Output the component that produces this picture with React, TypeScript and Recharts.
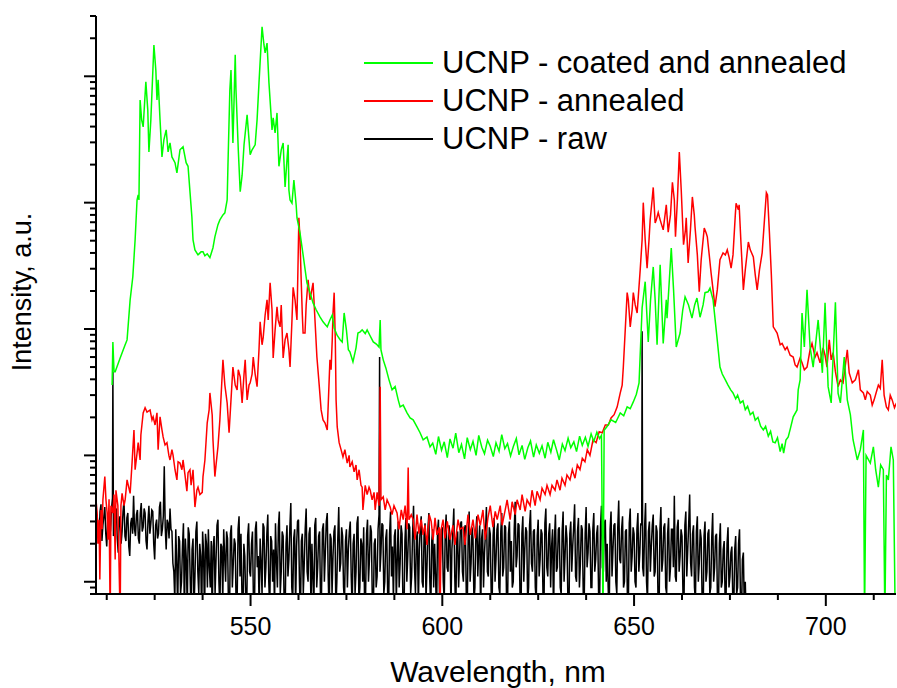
import React from 'react';
import { LineChart, Line, XAxis, YAxis, Legend } from 'recharts';

// [wavelength nm, intensity a.u.]
const coatedAnnealed: [number, number][] = [
  [513.9, 36], [514.1, 79], [514.4, 46], [514.7, 46], [516.0, 59], [517.3, 75], [517.8, 82], [518.6, 170],
  [519.3, 259], [519.9, 508], [520.4, 1050], [520.7, 1150], [520.9, 1050], [521.2, 6500], [521.6, 4520],
  [522.0, 3980], [522.7, 9030], [523.2, 5420], [523.5, 2520], [524.0, 4520], [524.8, 17700], [525.3, 11200],
  [525.6, 6500], [525.9, 9370], [526.4, 4520], [526.9, 2300], [527.4, 3140], [528.0, 3770], [528.5, 2520],
  [529.0, 2970], [529.5, 2300], [530.3, 2070], [530.8, 1720], [531.6, 2620], [532.4, 2770], [533.2, 2070],
  [533.7, 1940], [534.7, 772], [535.0, 508], [535.5, 423], [536.3, 386], [537.1, 408], [537.6, 408],
  [538.1, 380], [538.7, 394], [539.4, 367], [540.2, 440], [540.7, 536], [541.5, 670], [542.0, 731],
  [542.8, 800], [543.3, 830], [543.9, 1050], [544.1, 1940], [544.6, 7800], [544.9, 11200], [545.1, 6500],
  [545.4, 2970], [545.7, 6500], [546.0, 14800], [546.2, 7800], [546.8, 2620], [547.3, 1220], [547.8, 1650],
  [548.3, 2870], [549.1, 4950], [549.4, 3770], [549.9, 2400], [550.4, 2620], [551.2, 2870], [551.7, 4520],
  [552.2, 8870], [553.0, 24600], [553.5, 17700], [553.8, 15300], [554.3, 18300], [554.8, 8870], [555.6, 3770],
  [555.9, 4700], [556.4, 3570], [556.9, 5130], [557.4, 1940], [558.0, 2620], [558.5, 2970], [559.0, 1330],
  [559.5, 2180], [559.8, 2870], [560.0, 1260], [560.3, 1050], [560.8, 990], [561.3, 1510], [561.9, 950],
  [562.1, 760], [562.9, 575], [563.7, 386], [564.7, 232], [565.5, 194], [566.3, 161], [567.1, 142],
  [568.1, 125], [568.9, 114], [570.0, 104], [570.7, 118], [571.3, 129], [571.8, 102], [572.6, 89],
  [573.4, 82], [573.9, 79], [574.4, 134], [575.0, 98], [575.5, 68.5], [575.9, 66], [576.7, 55], [577.5, 71],
  [578.0, 93], [578.6, 95], [579.1, 98.5], [579.9, 92], [580.4, 98.5], [581.2, 88], [582.0, 79], [582.8, 76],
  [583.5, 72], [583.8, 118], [584.0, 68.5], [584.6, 57], [585.3, 49], [586.1, 39.6], [586.9, 33], [587.7, 35],
  [588.5, 27.5], [589.0, 24.2], [589.8, 25], [590.8, 21.7], [591.6, 19.8], [592.4, 19.1], [593.4, 16.8],
  [594.2, 15.1], [595.0, 13.3], [596.0, 14.0], [596.8, 11.7],
  [597.5, 12.5], [598.3, 10.2], [599.0, 14.1], [599.8, 11.0], [600.5, 12.8], [601.3, 9.6], [602.0, 13.5],
  [602.8, 11.4], [603.5, 15.0], [604.3, 10.5], [605.0, 12.2], [605.8, 9.4], [606.5, 13.8], [607.3, 11.1],
  [608.0, 12.9], [608.8, 10.0], [609.5, 14.4], [610.3, 11.6], [611.0, 10.3], [611.8, 13.2], [612.5, 11.8],
  [613.3, 9.8], [614.0, 12.6], [614.8, 10.8], [615.5, 14.6], [616.3, 11.3], [617.0, 12.4], [617.8, 9.9],
  [618.5, 11.7], [619.3, 13.6], [620.0, 10.1], [620.8, 12.0], [621.5, 9.3], [622.3, 11.5], [623.0, 13.0],
  [623.8, 9.7], [624.5, 12.1], [625.3, 10.4], [626.0, 11.9], [626.8, 9.5], [627.5, 12.7], [628.3, 10.6],
  [629.0, 13.3], [629.8, 11.0], [630.5, 9.2], [631.3, 12.3], [632.0, 10.9], [632.8, 13.7], [633.5, 11.5],
  [634.3, 12.8], [635.0, 10.7], [635.8, 14.2], [636.5, 12.0], [637.3, 13.9], [638.0, 11.8], [638.8, 14.8],
  [639.5, 12.9], [640.3, 15.3], [641.0, 13.6], [641.5, 14.4], [641.9, 0.5], [642.2, 15.8], [643.0, 17.0],
  [644.0, 19.1], [645.2, 18.2], [646.4, 21.7], [647.3, 20.6], [648.2, 24.2], [649.0, 23.4], [649.8, 26.5],
  [650.6, 30.5], [651.3, 37.5], [652.1, 147], [652.9, 237], [653.7, 79], [654.3, 170], [655.0, 310],
  [655.5, 170], [656.0, 75], [656.8, 322], [657.6, 77], [658.4, 170], [658.6, 122], [659.7, 437], [660.3, 204],
  [661.0, 72], [662.0, 93], [662.7, 142], [663.3, 180], [664.2, 155], [665.1, 122], [665.8, 155], [666.4, 176],
  [667.2, 124], [668.0, 155], [668.5, 194], [669.3, 197], [669.8, 211], [670.6, 170], [671.6, 87], [672.4, 50],
  [673.0, 44], [673.8, 39.6], [674.5, 36], [675.2, 33], [675.8, 31.2], [676.5, 28], [677.0, 30], [677.7, 26],
  [678.4, 27], [679.0, 23], [679.6, 24.5], [680.3, 21], [681.0, 22], [681.6, 19], [682.3, 20], [683.0, 17],
  [683.7, 15.9], [684.3, 17], [685.0, 14.2], [685.6, 15.5], [686.2, 12.8], [686.8, 12.6], [687.4, 13.8],
  [688.1, 10.7], [688.6, 12.4], [689.0, 10.4], [689.6, 13.2], [690.2, 14.0], [690.8, 16.5],
  [691.5, 20.2], [692.5, 22.9], [692.8, 33],
  [693.3, 39.6], [693.8, 134], [694.4, 72], [695.1, 204], [695.9, 72], [696.7, 50], [698.0, 118], [699.1, 45],
  [699.8, 161], [700.6, 35], [701.4, 26], [702.5, 163], [703.2, 31], [703.8, 26], [704.8, 60], [705.6, 27.5],
  [706.4, 21], [707.1, 13.3], [708.2, 9.2], [709.0, 11.1], [709.8, 15.9], [710.1, 0.5], [710.5, 10],
  [711.6, 8.7], [712.4, 11.7], [713.0, 7.7], [713.7, 5.6], [714.3, 8.4], [715.0, 7.7], [715.4, 0.5],
  [715.8, 7.0], [716.3, 6.4], [717.0, 11.7], [717.6, 9.2], [718.1, 0.5],
];

const annealed: [number, number][] = [
  [509.7, 4.45], [510.0, 3.5], [510.2, 2.0], [510.5, 3.1], [510.7, 1.04], [511.0, 3.7], [511.3, 2.6],
  [511.5, 4.45], [512.0, 6.8], [512.3, 4.45], [512.6, 3.5], [512.8, 2.15], [513.1, 4.5], [513.4, 0.5],
  [513.6, 4.0], [514.1, 3.5], [514.4, 4.9], [514.7, 1.5], [514.9, 5.3], [515.4, 4.0], [516.0, 0.5],
  [516.2, 4.0], [516.5, 5.0], [517.0, 4.0], [517.3, 4.45], [517.8, 6.4], [518.6, 5.0], [519.1, 8.7],
  [519.6, 15.9], [519.9, 7.7], [520.4, 10.4], [520.7, 12.6], [521.2, 9.2], [521.4, 14.5], [522.0, 21.7],
  [522.5, 23.8], [523.0, 22], [523.8, 22.9], [524.3, 19.1], [524.6, 20.2], [525.1, 17.4], [525.6, 21.7],
  [525.9, 11.1], [526.4, 20.2], [526.9, 15.9], [527.2, 14.0], [527.7, 12.1], [528.2, 12.6], [528.7, 10],
  [529.0, 9.2], [529.5, 11.1], [529.8, 10], [530.3, 7.7], [530.8, 6.4], [531.1, 8.9], [531.6, 8.7],
  [532.1, 7.7], [532.4, 9.2], [532.9, 7.0], [533.4, 5.2], [533.7, 7.3], [534.2, 7.7], [534.5, 5.8],
  [535.0, 7.7], [535.5, 3.9], [536.0, 5.3], [536.3, 5.6], [536.8, 4.9], [537.4, 5.1], [537.6, 6.8],
  [538.1, 9.2], [538.7, 18.1], [539.2, 22.9], [539.4, 31.2], [540.0, 20.9], [540.2, 13.3], [540.7, 6.8],
  [541.0, 8.4], [541.5, 11.7], [542.0, 19.1], [542.8, 57], [543.3, 36], [543.9, 26], [544.4, 15.1],
  [544.9, 27.5], [545.4, 50], [546.0, 36], [546.5, 33], [546.8, 47.6], [547.3, 41.9], [547.8, 26],
  [548.3, 44], [548.6, 57], [549.1, 27.5], [549.6, 36], [549.9, 37.5], [550.4, 44], [550.7, 60], [551.2, 44],
  [551.7, 35], [552.2, 68.5], [552.5, 114], [553.0, 75], [553.3, 86], [553.8, 129], [554.3, 170], [554.6, 118],
  [555.1, 232], [555.6, 142], [555.9, 59], [556.4, 98.5], [556.9, 150], [557.2, 118], [557.7, 104],
  [558.0, 155], [558.5, 59], [559.0, 82], [559.5, 93], [560.0, 68.5], [560.3, 50], [560.8, 118], [561.1, 214],
  [561.6, 170], [562.1, 118], [562.4, 353], [562.6, 760], [562.9, 508], [563.2, 245], [563.5, 129],
  [563.7, 93], [564.2, 93], [564.5, 155], [565.0, 245], [565.5, 170], [566.3, 232], [566.8, 118], [567.3, 60],
  [567.9, 36], [568.4, 22.9], [568.9, 19.1], [569.4, 18.1], [570.0, 15.9], [570.5, 39.6], [570.7, 57],
  [571.0, 47.6], [571.3, 82], [571.5, 134], [571.8, 194], [572.1, 82], [572.3, 27.5], [572.6, 16.8],
  [573.1, 12.6], [573.6, 11.1], [574.1, 9.7], [574.6, 11.1], [575.2, 8.7], [575.7, 10], [575.9, 8.1],
  [576.5, 8.9], [577.0, 7.4], [577.5, 8.4], [577.8, 6.4], [578.3, 7.7], [578.8, 5.8], [579.1, 5.6],
  [579.3, 3.7], [579.9, 5.8], [580.4, 4.9], [580.9, 5.6], [581.2, 5.3], [581.7, 4.45], [582.2, 5.1],
  [582.5, 3.7], [583.0, 5.1], [583.5, 4.0], [583.8, 35], [584.0, 4.45], [584.6, 4.7], [585.1, 3.7],
  [585.6, 4.45], [586.4, 3.9], [586.9, 3.4], [587.4, 4.0], [588.2, 3.5], [588.7, 2.6], [589.3, 3.7],
  [589.8, 3.1], [590.3, 4.0], [590.8, 2.6], [591.1, 8.0], [591.3, 3.1], [591.9, 3.4], [592.4, 3.1],
  [592.9, 2.15], [593.4, 3.4], [593.9, 2.4], [594.5, 3.1], [595.0, 2.35], [595.5, 2.8], [596.0, 1.96],
  [596.6, 3.4], [597.1, 3.0], [597.6, 2.15], [598.1, 3.2], [598.6, 2.35], [599.2, 2.7], [599.4, 0.5],
  [599.7, 2.6], [600.2, 3.1], [600.7, 2.2], [601.3, 3.0], [602.0, 2.15], [602.8, 2.8], [603.3, 1.96],
  [604.1, 3.1], [604.6, 2.6], [605.4, 2.7], [605.9, 1.96], [606.7, 3.4], [607.3, 2.35], [608.0, 3.1],
  [608.6, 2.2], [609.3, 3.4], [609.9, 2.8], [610.6, 3.7], [611.2, 2.15], [611.9, 3.2], [612.5, 4.0],
  [613.2, 2.7], [613.8, 3.6], [614.3, 3.1], [615.1, 4.0], [615.6, 2.8], [616.4, 3.7], [616.9, 4.45],
  [617.7, 3.1], [618.2, 4.3], [619.0, 3.4], [619.5, 4.45], [620.3, 3.7], [620.8, 4.9], [621.6, 3.6],
  [622.1, 4.45], [622.9, 4.0], [623.4, 5.3], [624.2, 4.0], [624.7, 5.2], [625.5, 4.45], [626.0, 5.5],
  [626.8, 4.9], [627.3, 5.8], [628.1, 4.9], [628.6, 5.8], [629.4, 5.3], [629.9, 6.4], [630.7, 5.3],
  [631.2, 6.6], [632.0, 5.8], [632.5, 7.0], [633.3, 6.4], [633.9, 7.7], [634.6, 6.6], [635.2, 8.4],
  [635.9, 7.7], [636.5, 9.5], [637.2, 8.9], [637.8, 11.1], [638.5, 10], [639.3, 13.3], [640.1, 12.6],
  [640.9, 15.4], [641.7, 15.1], [642.5, 17.4], [643.3, 17.4], [644.0, 19.8], [644.8, 21], [645.6, 24.2],
  [646.4, 31.2], [646.9, 36], [647.2, 50], [647.7, 98.5], [648.2, 194], [648.5, 170], [649.0, 104],
  [649.5, 142], [649.8, 194], [650.3, 155], [650.8, 134], [651.6, 294], [652.1, 508], [652.4, 1000],
  [652.9, 508], [653.4, 303], [653.9, 508], [654.2, 731], [654.7, 1050], [655.0, 1320], [655.5, 690],
  [655.8, 731], [656.3, 836], [656.8, 731], [657.6, 609], [658.4, 960], [658.9, 585], [659.5, 800],
  [660.0, 1450], [660.5, 1050], [660.8, 537], [661.3, 1050], [661.8, 2520], [662.3, 1260], [662.9, 465],
  [663.4, 609], [663.6, 760], [664.1, 333], [664.7, 609], [665.2, 1110], [665.7, 800], [665.9, 640],
  [666.5, 386], [667.0, 197], [667.5, 353], [668.3, 629], [668.8, 575], [669.1, 537], [669.6, 386],
  [670.1, 275], [670.6, 204], [671.1, 150], [671.7, 204], [672.4, 353], [673.2, 400], [673.8, 386],
  [674.3, 423], [674.8, 367], [675.3, 303], [675.8, 386], [676.4, 800], [676.6, 990], [677.2, 877],
  [677.4, 960], [677.9, 465], [678.5, 204], [679.0, 294], [679.8, 488], [680.3, 423], [681.1, 372],
  [681.6, 268], [682.1, 204], [682.7, 294], [683.4, 400], [684.0, 731], [684.5, 1200], [684.8, 1150],
  [685.3, 575], [685.8, 268], [686.3, 104], [686.8, 98.5], [687.3, 93], [688.1, 75], [688.6, 77],
  [689.4, 68.5], [689.9, 72], [690.7, 62], [691.5, 60], [692.0, 52], [692.5, 50], [693.3, 59], [693.8, 54],
  [694.4, 47.6], [695.1, 50], [695.9, 68.5], [696.4, 77], [697.2, 60], [697.7, 65], [698.5, 54], [699.3, 71],
  [699.8, 62], [700.3, 50], [700.9, 82], [701.4, 57], [701.9, 65], [702.5, 46], [703.2, 35], [703.8, 39.6],
  [704.5, 37.5], [705.1, 52], [705.6, 68.5], [706.1, 45], [706.9, 37.5], [707.7, 39.6], [708.5, 47.6],
  [709.0, 33], [709.8, 31.2], [710.3, 27.5], [710.8, 32], [711.6, 30], [712.1, 25], [712.6, 27.5],
  [713.1, 31.2], [713.7, 36], [714.2, 34], [714.7, 57], [715.2, 30], [715.8, 24.2], [716.3, 22.9],
  [716.8, 30], [717.3, 27.5], [717.9, 23.8], [718.4, 26],
];

const raw: [number, number][] = [
  [509.7, 3.0],
  [510, 3.4], [510.25, 2.5], [510.5, 2.2], [510.75, 3.6], [511, 4.1], [511.25, 2.1], [511.5, 2.8], [511.75, 3.3],
  [512, 3.9], [512.25, 2.4], [512.5, 1.9], [512.75, 3.0], [513, 3.6], [513.25, 2.2], [513.5, 2.6], [513.75, 3.8],
  [514, 4.6], [514.1, 46], [514.25, 2.3], [514.5, 2.4], [514.75, 3.5],
  [515, 3.8], [515.25, 2.2], [515.5, 1.7], [515.75, 3.1], [516, 3.3], [516.25, 2.0], [516.5, 2.5], [516.75, 3.6],
  [517, 4.4], [517.25, 2.3], [517.5, 2.1], [517.75, 3.2], [518, 3.5], [518.25, 1.9], [518.5, 1.6], [518.75, 2.9],
  [519, 3.2], [519.25, 2.4], [519.5, 4.8], [519.75, 2.6],
  [520, 2.3], [520.25, 3.4], [520.5, 3.7], [520.75, 2.2], [521, 2.0], [521.25, 3.5], [521.5, 4.2], [521.75, 2.5],
  [522, 2.7], [522.25, 3.8], [522.5, 3.5], [522.75, 2.1], [523, 1.8], [523.25, 3.0], [523.5, 4.0], [523.75, 2.4],
  [524, 2.9], [524.25, 3.7], [524.5, 3.6], [524.75, 2.0],
  [525, 1.5], [525.25, 2.8], [525.5, 3.1], [525.75, 2.2], [526, 2.4], [526.25, 3.9], [526.5, 4.3], [526.75, 2.3],
  [527, 2.6], [527.25, 3.3], [527.5, 8.2], [527.75, 2.7], [528, 1.8], [528.25, 3.1], [528.5, 2.9], [528.75, 2.2],
  [529, 3.8], [529.25, 2.6], [529.5, 2.5], [529.75, 1.4],
  [530, 1.2], [530.25, 0.7], [530.5, 2.6], [530.75, 1.4], [531, 0.6], [531.25, 2.3], [531.5, 2.1], [531.75, 0.8],
  [532, 1.0], [532.25, 1.9], [532.5, 2.9], [532.75, 0.5], [533, 2.2], [533.25, 1.5], [533.5, 0.6], [533.75, 2.7],
  [534, 2.4], [534.25, 1.1], [534.5, 0.5], [534.75, 1.8],
  [535, 2.2], [535.25, 0.6], [535.5, 1.1], [535.75, 2.5], [536, 3.0], [536.25, 1.2], [536.5, 0.8], [536.75, 2.0],
  [537, 1.6], [537.25, 0.5], [537.5, 2.5], [537.75, 1.7], [538, 0.5], [538.25, 2.4], [538.5, 2.0], [538.75, 0.9],
  [539, 2.6], [539.25, 1.3], [539.5, 0.9], [539.75, 2.1],
  [540, 0.5], [540.25, 1.9], [540.5, 2.3], [540.75, 0.8], [541, 1.5], [541.25, 2.8], [541.5, 3.1], [541.75, 1.0],
  [542, 0.6], [542.25, 2.0], [542.5, 1.9], [542.75, 0.7], [543, 2.6], [543.25, 1.6], [543.5, 1.0], [543.75, 2.5],
  [544, 2.2], [544.25, 0.6], [544.5, 0.5], [544.75, 2.4],
  [545, 2.8], [545.25, 0.9], [545.5, 1.4], [545.75, 2.2], [546, 2.0], [546.25, 0.6], [546.5, 0.7], [546.75, 2.6],
  [547, 3.3], [547.25, 1.1], [547.5, 2.4], [547.75, 0.8], [548, 0.5], [548.25, 2.0], [548.5, 1.6], [548.75, 0.7],
  [549, 0.6], [549.25, 2.3], [549.5, 2.9], [549.75, 1.2],
  [550, 1.1], [550.25, 2.0], [550.5, 2.5], [550.75, 0.7], [551, 0.5], [551.25, 2.6], [551.5, 3.0], [551.75, 1.3],
  [552, 1.6], [552.25, 0.6], [552.5, 2.2], [552.75, 1.4], [553, 0.8], [553.25, 2.9], [553.5, 2.7], [553.75, 0.9],
  [554, 1.3], [554.25, 2.4], [554.5, 3.4], [554.75, 1.0],
  [555, 0.6], [555.25, 2.3], [555.5, 2.1], [555.75, 1.0], [556, 1.8], [556.25, 0.6], [556.5, 2.9], [556.75, 1.5],
  [557, 0.9], [557.25, 2.7], [557.5, 3.6], [557.75, 0.8], [558, 1.2], [558.25, 2.5], [558.5, 2.3], [558.75, 0.7],
  [559, 0.5], [559.25, 2.0], [559.5, 2.8], [559.75, 1.1],
  [560, 1.5], [560.25, 2.7], [560.5, 4.2], [560.75, 0.9], [561, 0.7], [561.25, 2.2], [561.5, 2.6], [561.75, 0.6],
  [562, 1.9], [562.25, 3.0], [562.5, 3.1], [562.75, 1.0], [563, 0.5], [563.25, 2.1], [563.5, 2.4], [563.75, 0.8],
  [564, 1.4], [564.25, 2.6], [564.5, 3.8], [564.75, 1.2],
  [565, 1.0], [565.25, 2.4], [565.5, 2.7], [565.75, 0.6], [566, 2.0], [566.25, 1.1], [566.5, 0.6], [566.75, 2.8],
  [567, 3.2], [567.25, 0.9], [567.5, 1.3], [567.75, 2.3], [568, 2.5], [568.25, 0.7], [568.5, 0.8], [568.75, 2.6],
  [569, 2.9], [569.25, 1.0], [569.5, 1.7], [569.75, 3.0],
  [570, 3.5], [570.25, 1.1], [570.5, 0.5], [570.75, 2.4], [571, 2.2], [571.25, 0.8], [571.5, 1.6], [571.75, 2.5],
  [572, 2.8], [572.25, 0.6], [572.5, 1.0], [572.75, 2.2], [573, 3.9], [573.25, 1.2], [573.5, 1.4], [573.75, 2.7],
  [574, 2.3], [574.25, 0.9], [574.5, 0.7], [574.75, 2.1],
  [575, 2.6], [575.25, 0.9], [575.5, 1.8], [575.75, 2.5], [576, 3.0], [576.25, 1.1], [576.5, 0.6], [576.75, 2.0],
  [577, 2.4], [577.25, 0.8], [577.5, 1.2], [577.75, 2.9], [578, 3.3], [578.25, 0.7], [578.5, 0.9], [578.75, 2.2],
  [579, 2.0], [579.25, 1.0], [579.5, 2.7], [579.75, 0.6],
  [580, 0.8], [580.25, 2.4], [580.5, 3.1], [580.75, 1.0], [581, 1.5], [581.25, 2.8], [581.5, 2.5], [581.75, 0.7],
  [582, 0.5], [582.25, 2.0], [582.5, 2.2], [582.75, 0.9], [583, 1.1], [583.25, 2.6], [583.5, 3.4], [583.65, 60],
  [583.75, 1.2], [584, 1.7], [584.25, 2.9], [584.5, 2.8], [584.75, 0.8],
  [585, 1.0], [585.25, 2.2], [585.5, 2.6], [585.75, 0.8], [586, 0.6], [586.25, 2.4], [586.5, 3.6], [586.75, 1.1],
  [587, 1.9], [587.25, 0.7], [587.5, 2.3], [587.75, 2.6], [588, 0.7], [588.25, 1.5], [588.5, 3.0], [588.75, 0.9],
  [589, 1.4], [589.25, 2.8], [589.5, 2.4], [589.75, 0.6],
  [590, 0.5], [590.25, 2.1], [590.5, 3.2], [590.75, 1.0], [591, 1.6], [591.25, 2.9], [591.5, 2.7], [591.75, 0.8],
  [592, 1.1], [592.25, 2.4], [592.5, 4.0], [592.75, 1.3], [593, 0.8], [593.25, 2.2], [593.5, 2.5], [593.75, 0.6],
  [594, 1.8], [594.25, 2.7], [594.5, 3.3], [594.75, 1.0],
  [595, 0.9], [595.25, 2.4], [595.5, 2.9], [595.75, 0.7], [596, 1.3], [596.25, 2.6], [596.5, 3.5], [596.75, 1.0],
  [597, 0.6], [597.25, 2.1], [597.5, 2.6], [597.75, 0.9], [598, 2.0], [598.25, 1.1], [598.5, 0.5], [598.75, 2.5],
  [599, 3.1], [599.25, 0.8], [599.5, 1.5], [599.75, 2.6],
  [600, 2.7], [600.25, 1.0], [600.5, 0.7], [600.75, 2.4], [601, 3.4], [601.25, 1.3], [601.5, 1.2], [601.75, 2.8],
  [602, 2.3], [602.25, 0.6], [602.5, 1.8], [602.75, 2.5], [603, 3.8], [603.25, 1.1], [603.5, 0.5], [603.75, 2.2],
  [604, 2.5], [604.25, 0.9], [604.5, 1.6], [604.75, 2.9],
  [605, 3.0], [605.25, 1.2], [605.5, 1.0], [605.75, 2.6], [606, 2.8], [606.25, 0.8], [606.5, 0.6], [606.75, 2.3],
  [607, 3.6], [607.25, 1.0], [607.5, 1.4], [607.75, 2.7], [608, 2.2], [608.25, 0.7], [608.5, 0.9], [608.75, 2.5],
  [609, 3.3], [609.25, 1.1], [609.5, 1.9], [609.75, 2.8],
  [610, 0.5], [610.25, 2.2], [610.5, 2.6], [610.75, 0.9], [611, 1.7], [611.25, 2.4], [611.5, 3.9], [611.75, 1.2],
  [612, 1.1], [612.25, 2.7], [612.5, 2.4], [612.75, 0.8], [613, 0.7], [613.25, 2.3], [613.5, 3.2], [613.75, 1.0],
  [614, 1.5], [614.25, 2.6], [614.5, 2.9], [614.75, 0.9],
  [615, 0.8], [615.25, 2.5], [615.5, 3.5], [615.75, 1.1], [616, 1.3], [616.25, 2.8], [616.5, 2.7], [616.75, 0.7],
  [617, 0.6], [617.25, 2.4], [617.5, 3.0], [617.75, 1.2], [618, 2.1], [618.25, 0.9], [618.5, 1.0], [618.75, 2.6],
  [619, 4.3], [619.25, 1.3], [619.5, 1.6], [619.75, 2.9],
  [620, 2.8], [620.25, 0.8], [620.5, 0.5], [620.75, 2.4], [621, 3.3], [621.25, 1.0], [621.5, 1.8], [621.75, 2.7],
  [622, 2.5], [622.25, 0.7], [622.5, 0.9], [622.75, 2.8], [623, 3.7], [623.25, 1.4], [623.5, 1.2], [623.75, 2.5],
  [624, 2.6], [624.25, 0.9], [624.5, 0.7], [624.75, 2.3],
  [625, 3.1], [625.25, 1.1], [625.5, 1.5], [625.75, 2.6], [626, 2.4], [626.25, 0.8], [626.5, 0.6], [626.75, 2.9],
  [627, 3.8], [627.25, 1.3], [627.5, 1.1], [627.75, 2.4], [628, 2.9], [628.25, 0.9], [628.5, 1.9], [628.75, 2.6],
  [629, 0.5], [629.25, 2.2], [629.5, 3.4], [629.75, 1.2],
  [630, 1.3], [630.25, 2.6], [630.5, 2.7], [630.75, 0.9], [631, 0.8], [631.25, 2.5], [631.5, 3.6], [631.75, 1.0],
  [632, 1.6], [632.25, 2.8], [632.5, 2.2], [632.75, 0.7], [633, 0.5], [633.25, 2.4], [633.5, 3.0], [633.75, 1.2],
  [634, 1.9], [634.25, 2.7], [634.5, 4.1], [634.75, 1.1],
  [635, 1.0], [635.25, 2.5], [635.5, 3.2], [635.75, 0.9], [636, 1.4], [636.25, 2.8], [636.5, 2.6], [636.75, 0.8],
  [637, 0.7], [637.25, 2.4], [637.5, 3.9], [637.75, 1.3], [638, 1.7], [638.25, 2.9], [638.5, 2.5], [638.75, 0.9],
  [639, 0.9], [639.25, 2.6], [639.5, 3.5], [639.75, 1.2],
  [640, 1.5], [640.25, 2.4], [640.5, 2.8], [640.75, 0.8], [641, 0.6], [641.25, 2.7], [641.5, 4.0], [641.75, 1.3],
  [642, 1.2], [642.25, 2.9], [642.5, 3.1], [642.75, 1.0], [643, 2.0], [643.25, 0.9], [643.5, 0.5], [643.75, 2.6],
  [644, 3.6], [644.25, 1.1], [644.5, 1.8], [644.75, 2.8],
  [645, 2.9], [645.25, 1.0], [645.5, 0.8], [645.75, 2.7], [646, 4.4], [646.25, 1.5], [646.5, 1.4], [646.75, 2.6],
  [647, 3.3], [647.25, 0.9], [647.5, 1.0], [647.75, 2.5], [648, 2.6], [648.25, 0.8], [648.5, 0.6], [648.75, 2.9],
  [649, 3.8], [649.25, 1.2], [649.5, 1.6], [649.75, 2.7],
  [650, 2.4], [650.25, 1.0], [650.5, 0.9], [650.75, 2.6], [651, 3.5], [651.25, 1.2], [651.5, 1.7], [651.75, 2.9],
  [652, 2.8], [652.1, 96], [652.25, 1.3], [652.5, 1.1], [652.75, 2.7], [653, 4.2], [653.25, 1.0], [653.5, 0.7],
  [653.75, 2.5], [654, 3.0], [654.25, 1.2], [654.5, 1.9], [654.75, 2.8],
  [655, 3.4], [655.25, 1.1], [655.5, 1.2], [655.75, 2.8], [656, 2.5], [656.25, 0.7], [656.5, 0.5], [656.75, 2.6],
  [657, 3.9], [657.25, 1.2], [657.5, 1.5], [657.75, 2.7], [658, 2.9], [658.25, 0.9], [658.5, 0.8], [658.75, 2.4],
  [659, 3.2], [659.25, 1.0], [659.5, 1.3], [659.75, 2.6],
  [660, 2.6], [660.25, 1.3], [660.5, 4.8], [660.75, 1.1], [661, 1.0], [661.25, 2.7], [661.5, 3.1], [661.75, 1.2],
  [662, 1.6], [662.25, 2.6], [662.5, 2.3], [662.75, 0.8], [663, 0.6], [663.25, 2.8], [663.5, 3.6], [663.75, 1.1],
  [664, 1.8], [664.25, 2.9], [664.5, 4.9], [664.75, 1.4],
  [665, 1.1], [665.25, 2.4], [665.5, 2.8], [665.75, 0.9], [666, 0.7], [666.25, 2.5], [666.5, 3.3], [666.75, 1.0],
  [667, 1.4], [667.25, 2.6], [667.5, 2.2], [667.75, 0.7], [668, 0.5], [668.25, 2.3], [668.5, 3.0], [668.75, 1.0],
  [669, 1.2], [669.25, 2.4], [669.5, 2.6], [669.75, 0.8],
  [670, 0.9], [670.25, 2.2], [670.5, 3.5], [670.75, 1.0], [671, 1.3], [671.25, 2.3], [671.5, 2.4], [671.75, 0.7],
  [672, 0.6], [672.25, 2.0], [672.5, 2.9], [672.75, 0.9], [673, 1.0], [673.25, 1.8], [673.5, 2.1], [673.75, 0.7],
  [674, 0.8], [674.25, 2.0], [674.5, 2.7], [674.75, 0.9],
  [675, 1.1], [675.25, 1.7], [675.5, 1.9], [675.75, 0.7], [676, 0.6], [676.25, 1.8], [676.5, 2.3], [676.75, 0.8],
  [677, 0.9], [677.25, 2.0], [677.5, 2.6], [677.75, 0.7], [678, 0.5], [678.25, 1.5], [678.5, 1.7], [678.75, 0.6],
  [679, 1.0], [679.25, 0.5], [679.5, 0.5],
];

const xTicks = [512.5, 525, 537.5, 550, 562.5, 575, 587.5, 600, 612.5, 625, 637.5, 650, 662.5, 675, 687.5, 700, 712.5];
const xLabelled = [550, 600, 650, 700];
const yTicks = [
  0.8, 0.9, 1, 2, 3, 4, 5, 6, 7, 8, 9, 10, 20, 30, 40, 50, 60, 70, 80, 90, 100, 200, 300, 400, 500, 600, 700, 800, 900,
  1000, 2000, 3000, 4000, 5000, 6000, 7000, 8000, 9000, 10000, 20000, 30000,
];
const yMajor = [1, 10, 100, 1000, 10000];

const series = [
  { name: 'UCNP - coated and annealed', color: '#00ff00', points: coatedAnnealed },
  { name: 'UCNP - annealed', color: '#ff0000', points: annealed },
  { name: 'UCNP - raw', color: '#000000', points: raw },
];

const FONT = '"Liberation Sans", Arial, sans-serif';

const toRows = (pts: [number, number][]) => pts.map(([w, v]) => ({ w, v }));

const XTick = ({ x, y, payload }: any) => {
  const major = xLabelled.includes(payload.value);
  return (
    <g>
      <line x1={x} x2={x} y1={y} y2={y + (major ? 12 : 6)} stroke="#000" strokeWidth={2} />
      {major && (
        <text x={x} y={y + 41} textAnchor="middle" fontSize={25} fontFamily={FONT} fill="#000">
          {payload.value}
        </text>
      )}
    </g>
  );
};

const YTick = ({ x, y, payload }: any) => {
  const major = yMajor.includes(payload.value);
  return <line x1={x - (major ? 12 : 6)} x2={x} y1={y} y2={y} stroke="#000" strokeWidth={2} />;
};

const LegendBox = () => (
  <div style={{ fontFamily: FONT, fontSize: 31, color: '#000' }}>
    {series.map(s => (
      <div key={s.name} style={{ display: 'flex', alignItems: 'center', height: 38, whiteSpace: 'nowrap' }}>
        <span style={{ display: 'inline-block', width: 69, height: 2, background: s.color, marginRight: 9 }} />
        <span>{s.name}</span>
      </div>
    ))}
  </div>
);

export default function App() {
  // draw raw first so the green sits on top, like the original plot
  const drawOrder = [...series].reverse();
  return (
    <div style={{ position: 'absolute', left: 0, top: 0, width: 897, height: 688, background: '#fff' }}>
      <LineChart width={897} height={688} margin={{ top: 16, right: 1, bottom: 93, left: 95 }}>
        <XAxis
          dataKey="w"
          type="number"
          domain={[509.7, 718.3]}
          allowDataOverflow
          ticks={xTicks}
          tick={<XTick />}
          tickLine={false}
          tickSize={0}
          tickMargin={0}
          height={1}
          interval={0}
          axisLine={{ stroke: '#000', strokeWidth: 2 }}
        />
        <YAxis
          dataKey="v"
          scale="log"
          domain={[0.8, 30000]}
          allowDataOverflow
          ticks={yTicks}
          tick={<YTick />}
          tickLine={false}
          tickSize={0}
          tickMargin={0}
          width={1}
          interval={0}
          axisLine={{ stroke: '#000', strokeWidth: 2 }}
        />
        <Legend
          layout="vertical"
          align="center"
          verticalAlign="middle"
          wrapperStyle={{ left: 364, top: 44, width: 520 }}
          content={() => <LegendBox />}
        />
        {drawOrder.map(s => (
          <Line
            key={s.name}
            data={toRows(s.points)}
            dataKey="v"
            name={s.name}
            type="linear"
            stroke={s.color}
            strokeWidth={1.5}
            dot={false}
            isAnimationActive={false}
          />
        ))}
      </LineChart>
      <div
        style={{
          position: 'absolute', left: 498, top: 672, transform: 'translate(-50%, -50%)',
          fontFamily: FONT, fontSize: 30, whiteSpace: 'nowrap', color: '#000',
        }}
      >
        Wavelength, nm
      </div>
      <div
        style={{
          position: 'absolute', left: 22, top: 292, transform: 'translate(-50%, -50%) rotate(-90deg)',
          fontFamily: FONT, fontSize: 27, whiteSpace: 'nowrap', color: '#000',
        }}
      >
        Intensity, a.u.
      </div>
    </div>
  );
}
